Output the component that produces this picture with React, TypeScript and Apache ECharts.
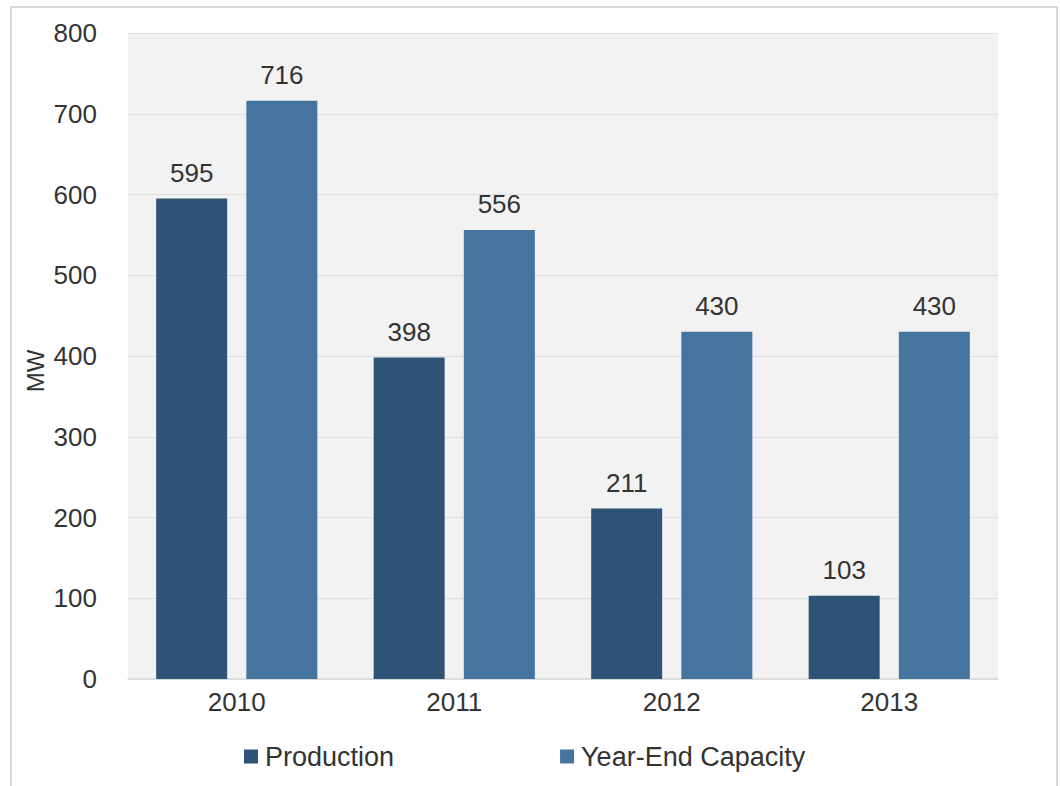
import React, { useEffect, useRef } from "react";
import * as echarts from "echarts";

const categories = ["2010", "2011", "2012", "2013"];
const production = [595, 398, 211, 103];
const capacity = [716, 556, 430, 430];
const seriesNames = ["Production", "Year-End Capacity"];
const yTicks = { min: 0, max: 800, interval: 100 };
const yAxisTitle = "MW";

export default function App() {
  const ref = useRef<HTMLDivElement>(null);
  useEffect(() => {
    if (!ref.current) return;
    const chart = echarts.init(ref.current, null, { renderer: "svg" });
    const font = "Liberation Sans, Arial, sans-serif";
    const textColor = "#333333";
    const fs = 26;
    chart.setOption({
      animation: false,
      backgroundColor: "#ffffff",
      textStyle: { fontFamily: font },
      graphic: [
        {
          type: "rect",
          shape: { x: 11, y: 7, width: 1046, height: 800 },
          style: { fill: "none", stroke: "#d9d9d9", lineWidth: 2 },
          silent: true,
        },
        {
          type: "rect",
          shape: { x: 128, y: 33, width: 870, height: 646 },
          style: { fill: "#f2f2f2" },
          z: -1,
          silent: true,
        },
        {
          type: "text",
          x: 35,
          y: 371,
          rotation: Math.PI / 2,
          style: {
            text: yAxisTitle,
            fontSize: 24,
            fontFamily: font,
            fill: textColor,
            align: "center",
            verticalAlign: "middle",
          },
          silent: true,
        },
      ],
      grid: { left: 128, right: 62, top: 33, bottom: 107, containLabel: false },
      legend: {
        data: seriesNames,
        top: 743,
        left: 244,
        padding: 0,
        itemWidth: 14,
        itemHeight: 14,
        itemGap: 166,
        icon: "rect",
        textStyle: { fontSize: 27, color: textColor, fontFamily: font, padding: [0, 0, 0, 2] },
      },
      xAxis: {
        type: "category",
        data: categories,
        axisTick: { show: false },
        axisLine: { show: true, lineStyle: { color: "#d9d9d9", width: 1.5 } },
        axisLabel: { fontSize: fs, color: textColor, margin: 10, fontFamily: font },
      },
      yAxis: {
        type: "value",
        min: yTicks.min,
        max: yTicks.max,
        interval: yTicks.interval,
        axisLine: { show: false },
        axisTick: { show: false },
        axisLabel: { fontSize: fs, color: textColor, margin: 31, fontFamily: font },
        splitLine: { show: true, lineStyle: { color: "#dedede", width: 1 } },
      },
      series: [
        {
          name: seriesNames[0],
          type: "bar",
          data: production,
          barWidth: 71,
          barGap: "27%",
          itemStyle: { color: "#2f5277" },
          label: {
            show: true,
            position: "top",
            distance: 13,
            fontSize: fs,
            color: textColor,
            fontFamily: font,
          },
        },
        {
          name: seriesNames[1],
          type: "bar",
          data: capacity,
          barWidth: 71,
          barGap: "27%",
          itemStyle: { color: "#45749f" },
          label: {
            show: true,
            position: "top",
            distance: 13,
            fontSize: fs,
            color: textColor,
            fontFamily: font,
          },
        },
      ],
    });
    return () => chart.dispose();
  }, []);
  return (
    <div
      ref={ref}
      style={{ position: "absolute", left: 0, top: 0, width: 1060, height: 786 }}
    />
  );
}
